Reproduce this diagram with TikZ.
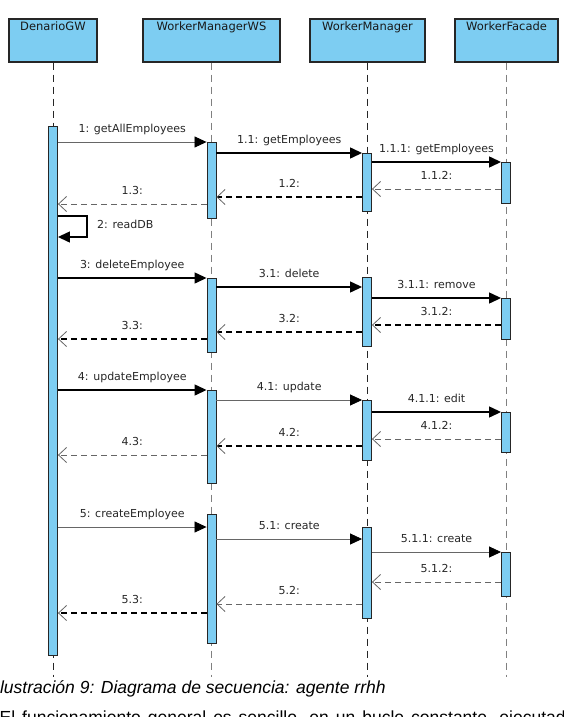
\documentclass[tikz,border=0pt]{standalone}
\usepackage{fontspec}
\setmainfont{DejaVu Sans}
\newfontfamily\docfont{Liberation Sans}
\usetikzlibrary{arrows.meta}
\definecolor{lifeblue}{RGB}{125,205,242}

\begin{document}
\begin{tikzpicture}
  [x=1pt,y=-1pt,
   head/.style={rectangle,draw=black!85,line width=1.2pt,fill=lifeblue,minimum height=43pt,inner sep=0pt},
   bar/.style={rectangle,draw=black!85,line width=0.9pt,fill=lifeblue,minimum width=9pt,inner sep=0pt},
   life/.style={dash pattern=on 7pt off 5pt,line width=1pt},
   call/.style={line width=1.3pt,-{Triangle[length=12pt,width=11pt,color=black]}},
   callL/.style={call,line width=0.8pt,draw=black!60},
   reply/.style={line width=1.3pt,dash pattern=on 6pt off 4pt,-{Straight Barb[length=8pt,width=15pt,line width=0.8pt,color=black!60]}},
   replyL/.style={reply,line width=0.8pt,draw=black!60},
   msg/.style={pos=0.5,anchor=base,yshift=10pt,inner sep=0pt,text=black!85,font=\fontsize{11}{13}\selectfont},
   hfont/.style={font=\fontsize{11.5}{13}\selectfont,text=black!90}]
  \useasboundingbox (0,0) rectangle (564,717);
  \clip (0,0) rectangle (564,717);

  % lifeline heads
  \node[head,minimum width=88pt,label={[anchor=north,inner sep=3pt,hfont]north:DenarioGW}] (den) at (53,40.5) {};
  \node[head,minimum width=137pt,label={[anchor=north,inner sep=3pt,hfont]north:WorkerManagerWS}] (ws) at (211.5,40.5) {};
  \node[head,minimum width=115pt,label={[anchor=north,inner sep=3pt,hfont]north:WorkerManager}] (wm) at (367.5,40.5) {};
  \node[head,minimum width=103pt,label={[anchor=north,inner sep=3pt,hfont]north:WorkerFacade}] (wf) at (506.5,40.5) {};

  \foreach \n/\c in {den/black!85,ws/black!50,wm/black!85,wf/black!50}
    \draw[life,draw=\c] (\n.south) -- (\n.south |- 0,677);

  % activation bars
  \foreach \n/\x/\t/\b in {den1/53/126/655,
      ws1/211.5/142/218, ws2/211.5/278/352, ws3/211.5/390/483, ws4/211.5/514/643,
      wm1/367/153/211, wm2/367/277/346, wm3/367/400/460, wm4/367/527/618,
      wf1/506/162/203, wf2/506/298/339, wf3/506/412/452, wf4/506/552/596}
    \node[bar,minimum height={(\b-\t)*1pt}] (\n) at (\x,{(\t+\b)/2}) {};

  % calls
  \foreach \s/\d/\y/\st/\txt in {den1/ws1/142/callL/{1: getAllEmployees},
      ws1/wm1/153/call/{1.1: getEmployees}, wm1/wf1/162/call/{1.1.1: getEmployees},
      den1/ws2/278/call/{3: deleteEmployee}, ws2/wm2/287/call/{3.1: delete},
      wm2/wf2/298/call/{3.1.1: remove},
      den1/ws3/390/call/{4: updateEmployee}, ws3/wm3/400/callL/{4.1: update},
      wm3/wf3/412/call/{4.1.1: edit},
      den1/ws4/527/callL/{5: createEmployee}, ws4/wm4/539/callL/{5.1: create},
      wm4/wf4/552/callL/{5.1.1: create}}
    \draw[\st] (\s.east |- 0,\y) -- (\d.west |- 0,\y) node[msg] {\txt};

  % replies
  \foreach \s/\d/\y/\st/\txt in {wf1/wm1/189/replyL/{1.1.2:}, wm1/ws1/197/reply/{1.2:},
      ws1/den1/204/replyL/{1.3:},
      wf2/wm2/325/reply/{3.1.2:}, wm2/ws2/332/reply/{3.2:}, ws2/den1/339/reply/{3.3:},
      wf3/wm3/439/replyL/{4.1.2:}, wm3/ws3/446/reply/{4.2:}, ws3/den1/455/replyL/{4.3:},
      wf4/wm4/582/replyL/{5.1.2:}, wm4/ws4/604/replyL/{5.2:}, ws4/den1/613/reply/{5.3:}}
    \draw[\st] (\s.west |- 0,\y) -- (\d.east |- 0,\y) node[msg] {\txt};

  % self call
  \draw[call] (den1.east |- 0,216) -- ++(29,0) |- (den1.east |- 0,237);
  \node[anchor=base west,inner sep=0pt,text=black!85,font=\fontsize{11}{13}\selectfont] (rdb) at (97,228) {2: readDB};

  % caption and text below
  \node[anchor=base west,inner sep=0pt,font=\docfont\itshape\fontsize{17.5}{20}\selectfont] (capt) at (-5,693)
    {Ilustración 9: Diagrama de secuencia: agente rrhh};
  \node[anchor=base west,inner sep=0pt,font=\docfont\fontsize{17.5}{20}\selectfont] (body) at (-0.5,723)
    {\makebox[566pt][s]{El funcionamiento general es sencillo, en un bucle constante, ejecutad}};

\end{tikzpicture}
\end{document}
